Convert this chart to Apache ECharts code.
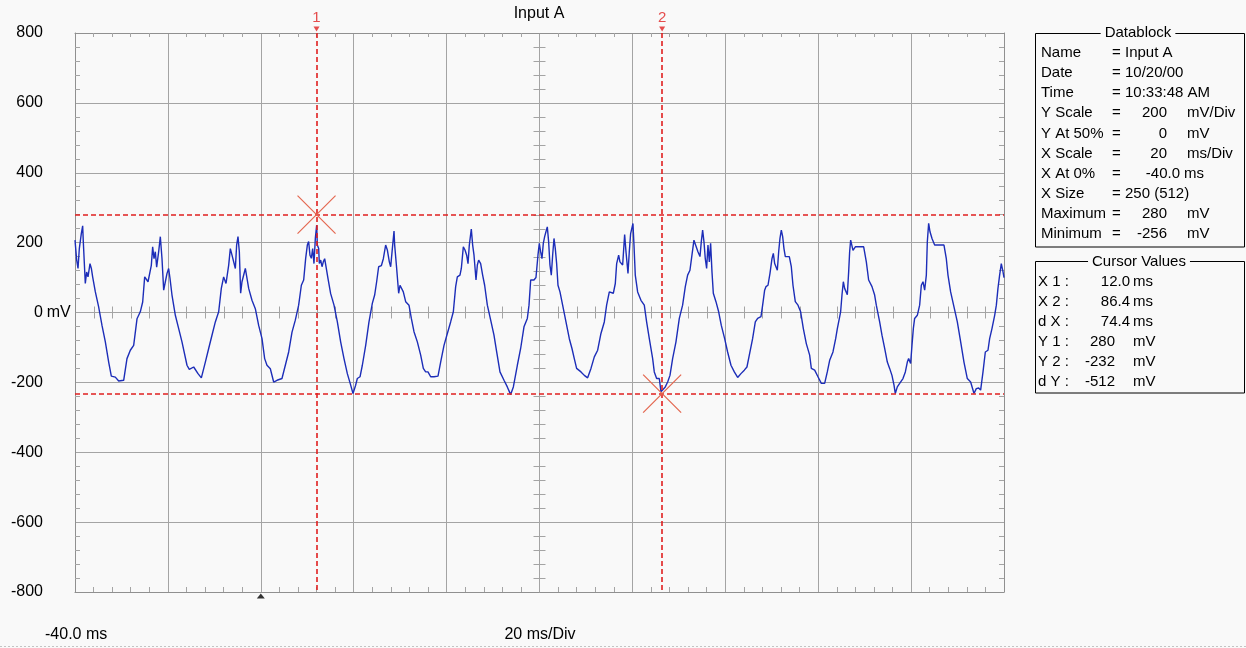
<!DOCTYPE html>
<html>
<head>
<meta charset="utf-8">
<title>Input A</title>
<script src="https://cdn.jsdelivr.net/npm/echarts@6/dist/echarts.min.js"></script>
<style>
    html, body { margin: 0; padding: 0; background: #f9f9f9; }
    #scope { width: 1246px; height: 648px; }
</style>
</head>
<body>
<div id="scope"></div>
<script>
// trace (ms, mV)
var timeMs = [
    -40.0, -39.64, -39.35, -39.07, -38.64, -38.35, -38.21, -37.92, -37.78, -37.49,
    -37.20, -36.77, -36.48, -36.20, -35.62, -34.91, -34.19, -33.47, -32.75, -32.18,
    -31.32, -30.60, -29.52, -28.81, -28.09, -27.37, -26.65, -25.94, -25.43, -25.00,
    -24.28, -23.57, -23.28, -22.99, -22.71, -22.42, -21.99, -21.63, -21.27, -20.91,
    -20.55, -20.19, -19.84, -19.55, -19.12, -18.40, -17.68, -16.97, -15.89, -15.39,
    -14.45, -13.52, -12.80, -11.94, -11.22, -10.51, -9.79, -9.07, -8.50, -8.00,
    -7.49, -6.92, -6.56, -6.20, -5.48, -5.20, -4.91, -4.62, -4.34, -4.05,
    -3.33, -2.61, -1.90, -1.18, -0.46, 0.26, 0.83, 1.33, 2.05, 2.77,
    3.49, 4.56, 5.28, 6.00, 6.72, 7.43, 8.15, 8.73, 9.23,
    9.66, 10.02, 10.30, 10.59, 10.88, 11.17, 11.45, 11.74, 12.03, 12.17,
    12.46, 12.60, 12.89, 13.18, 13.46, 13.75, 14.04, 14.47, 15.04, 15.76,
    16.48, 17.19, 17.91, 18.63, 19.35, 19.85, 20.42, 20.78, 21.36, 21.86,
    22.58, 23.29, 24.01, 24.51, 24.94, 25.37, 25.95, 26.38, 26.88, 27.24,
    27.67, 27.96, 28.32, 28.68, 28.82, 29.25, 29.68, 29.97, 30.40, 30.68,
    31.19, 31.90, 32.41, 32.98, 33.70, 34.42, 34.99, 35.49, 35.99, 36.57,
    37.29, 38.15, 38.72, 39.44, 40.16, 40.87, 41.45, 41.95, 42.31, 42.88,
    43.17, 43.60, 43.96, 44.32, 44.61, 44.89, 45.32, 45.61, 45.90, 46.33,
    46.62, 46.90, 47.33, 47.76, 48.19, 48.77, 49.49, 50.20, 50.78, 51.49,
    52.36, 53.07, 53.79, 54.37, 55.23, 55.94, 56.66, 57.38, 57.74, 58.10, 58.81,
    59.24, 59.67, 59.96, 60.24, 60.53, 60.82, 61.11, 61.39, 61.68, 61.97,
    62.25, 62.54, 62.83, 63.12, 63.40, 63.69, 63.98, 64.41, 64.98, 65.70,
    66.42, 66.99, 67.49, 67.99, 68.93, 69.65, 70.36, 71.08, 71.80, 72.52,
    73.23, 73.95, 74.45, 75.03, 75.89, 76.32, 76.61, 77.04, 77.32, 77.61,
    77.90, 78.33, 78.62, 79.05, 79.33, 79.62, 79.91, 80.12, 80.34, 80.62,
    81.13, 81.84, 82.56, 83.06, 83.64, 84.36, 84.71, 85.22, 85.79, 86.15,
    86.51, 87.08, 87.59, 88.09, 88.66, 89.38, 90.10, 90.81, 91.39, 91.89,
    92.39, 92.82, 93.25, 93.68, 94.11, 94.55, 94.83, 95.12, 95.41, 95.69,
    95.98, 96.27, 96.56, 96.84, 97.13, 97.42, 97.99, 98.57, 99.14, 99.86,
    100.50, 101.22, 101.94, 102.66, 103.37, 104.09, 104.66, 105.17, 105.88, 106.46,
    106.96, 107.68, 108.04, 108.47, 108.75,
    109.19, 109.62, 110.05, 110.34, 110.63, 110.91, 111.20, 111.49, 111.77, 112.06,
    112.35, 112.63, 112.92, 113.35, 113.78, 114.21, 114.57, 115.07, 115.65, 116.22,
    116.80, 117.44, 118.16, 118.52, 119.24, 119.95, 120.67, 121.39, 121.96, 122.47,
    123.18, 123.76, 124.12, 124.48, 124.83, 125.12, 125.41, 125.69, 125.98, 126.27,
    126.56, 126.77, 126.99, 127.49, 127.99, 129.79, 130.36, 130.86, 131.58, 132.15,
    132.51, 133.23, 133.73, 134.31, 134.88, 135.38, 135.88, 136.32, 136.60, 137.03,
    137.54, 138.25, 138.76, 139.19, 139.47, 139.90, 140.19, 140.48, 140.76, 141.34,
    141.84, 142.20, 142.56, 142.92, 143.28, 143.49, 143.78, 144.07, 144.50, 145.07,
    147.08, 147.58, 147.94, 148.51, 149.23, 149.95, 150.67, 151.38, 152.10, 152.82,
    153.54, 154.04, 154.54, 154.97, 155.48, 155.98, 156.55, 156.91, 157.41, 157.99,
    158.35, 158.70, 159.06, 159.42, 159.78, 160.0
];
var voltMv = [
    207, 150, 126, 183, 226, 248, 202, 198, 83, 116,
    102, 140, 126, 102, 59, 16, -37, -84, -142, -182,
    -185, -196, -194, -132, -108, -94, -18, 2, 30, 102,
    88, 135, 188, 154, 174, 130, 174, 217, 154, 64,
    88, 112, 126, 98, 50, -8, -46, -84, -151, -163,
    -156, -175, -187, -142, -103, -65, -27, 2, 69, 102,
    83, 135, 183, 164, 126, 193, 217, 174, 55, 88,
    126, 69, 35, 11, -37, -75, -132, -151, -161, -199,
    -194, -189, -151, -113, -56, -22, 21, 78, 93,
    155, 193, 203, 164, 155, 183, 140, 212, 250, 193,
    183, 140, 150, 131, 145, 154, 131, 97, 54, 21,
    -27, -84, -132, -175, -208, -232, -208, -189, -184, -151,
    -94, -27, 26, 50, 88, 131, 134, 154, 193, 179,
    145, 131, 183, 233, 193, 126, 55, 78, 78, 59,
    31, 21, -17, -55, -84, -122, -160, -170, -170, -184,
    -184, -182, -142, -94, -60, -27, 2, 74, 102, 107,
    126, 188, 179, 164, 140, 193, 239, 193, 164, 93,
    136, 150, 140, 107, 78, 21, -22, -65, -113, -170,
    -194, -213, -235, -213, -151, -103, -41, -17, 21, 93, 93,
    100, 164, 198, 174, 154, 198, 217, 231, 245, 202,
    136, 107, 164, 212, 183, 140, 78, 59, 21, -27,
    -75, -103, -132, -160, -170, -180, -187, -160, -127, -108,
    -60, -27, 21, 59, 55, 83, 140, 164, 145, 150,
    136, 223, 174, 112, 174, 226, 231, 255, 193, 107,
    59, 35, 21, -27, -75, -132, -170, -189, -189, -227,
    -227, -213, -199, -180, -132, -84, -17, 21, 74, 107,
    121, 164, 207, 202, 174, 160, 202, 236, 202, 154,
    126, 193, 145, 198, 117, 55, 31, 2, -37, -75,
    -113, -151, -170, -186, -175, -165, -156, -122, -75, -27,
    -17, -12, 21, 64, 74,
    78, 112, 154, 169, 140, 145, 121, 174, 212, 236,
    217, 183, 160, 155, 160, 131, 78, 31, 21, 2,
    -46, -89, -122, -160, -165, -184, -203, -203, -170, -137,
    -113, -75, -46, -50, 2, 50, 88, 69, 74, 51,
    117, 174, 207, 178, 188, 188, 145, 93, 74, 50,
    21, -27, -65, -103, -142, -160, -180, -208, -232, -213,
    -203, -189, -170, -142, -132, -146, -94, -46, -17, -8,
    21, 78, 88, 64, 107, 202, 255, 231, 212, 193,
    193, 154, 107, 59, 16, -27, -84, -142, -189, -199,
    -232, -218, -216, -222, -170, -113, -108, -75, -46, -8,
    21, 69, 107, 140, 117, 100
];

var xMin = -40, xMax = 160, xDiv = 20;     // ms
var yMin = -800, yMax = 800, yDiv = 200;   // mV
var cursorX = [12.0, 86.4];
var cursorY = [280, -232];
var triggerMs = 0;

var infoRows = [
    ['Name', 'Input A', ''],
    ['Date', '10/20/00', ''],
    ['Time', '10:33:48 AM', ''],
    ['Y Scale', '200', 'mV/Div'],
    ['Y At 50%', '0', 'mV'],
    ['X Scale', '20', 'ms/Div'],
    ['X At 0%', '-40.0', 'ms'],
    ['X Size', '250 (512)', ''],
    ['Maximum', '280', 'mV'],
    ['Minimum', '-256', 'mV']
];

var FONT = "'Liberation Sans', Arial, sans-serif";
var GRID = '#a4a4a4', EDGE = '#909090', RED = '#e02020';

var trace = [];
for (var i = 0; i < Math.min(timeMs.length, voltMv.length); i++) {
    trace.push([timeMs[i], voltMv[i]]);
}

// small ticks along the two centre lines
var hTicks = [], vTicks = [];
for (var t = xMin; t <= xMax; t += xDiv / 5) {
    if (t % xDiv !== 0) hTicks.push([t, 0]);
}
for (var v = yMin; v <= yMax; v += yDiv / 5) {
    if (v % yDiv !== 0) vTicks.push([(xMin + xMax) / 2, v]);
}

function txt(x, y, s, align, size, color) {
    return {
        type: 'text', x: x, y: y, silent: true,
        style: {
            text: s, textAlign: align || 'left', textVerticalAlign: 'middle',
            fontSize: size || 15, fontFamily: FONT, fill: color || '#000'
        }
    };
}

var graphics = [
    txt(539, 14, 'Input A', 'center', 16),
    txt(45, 635, xMin.toFixed(1) + ' ms', 'left', 16),
    txt(540, 635, xDiv + ' ms/Div', 'center', 16),
    { type: 'line', silent: true, shape: { x1: 0, y1: 646.5, x2: 1246, y2: 646.5 },
      style: { stroke: '#c4c4c4', lineWidth: 1, lineDash: [2, 2] } },
    // Datablock box
    { type: 'rect', silent: true, shape: { x: 1035.5, y: 33.5, width: 209, height: 213.5 },
      style: { fill: null, stroke: '#000', lineWidth: 1 } },
    { type: 'text', x: 1138, y: 33, silent: true,
      style: { text: 'Datablock', textAlign: 'center', textVerticalAlign: 'middle', fontSize: 15,
               fontFamily: FONT, fill: '#000', backgroundColor: '#f9f9f9', padding: [0, 4] } },
    // Cursor values box
    { type: 'rect', silent: true, shape: { x: 1035.5, y: 261.5, width: 209, height: 131.5 },
      style: { fill: null, stroke: '#000', lineWidth: 1 } },
    { type: 'text', x: 1139, y: 262, silent: true,
      style: { text: 'Cursor Values', textAlign: 'center', textVerticalAlign: 'middle', fontSize: 15,
               fontFamily: FONT, fill: '#000', backgroundColor: '#f9f9f9', padding: [0, 4] } }
];

infoRows.forEach(function (r, k) {
    var y = 53 + k * 20.1;
    graphics.push(txt(1041, y, r[0]));
    graphics.push(txt(1112, y, '='));
    if (r[2] === '') {
        graphics.push(txt(1125, y, r[1]));
    } else if (r[2] === 'ms') {
        graphics.push(txt(1180, y, r[1], 'right'));
        graphics.push(txt(1184, y, r[2]));
    } else {
        graphics.push(txt(1167, y, r[1], 'right'));
        graphics.push(txt(1187, y, r[2]));
    }
});

var cursorRows = [
    ['X 1 :', cursorX[0].toFixed(1), 'ms'],
    ['X 2 :', cursorX[1].toFixed(1), 'ms'],
    ['d X :', (cursorX[1] - cursorX[0]).toFixed(1), 'ms'],
    ['Y 1 :', String(cursorY[0]), 'mV'],
    ['Y 2 :', String(cursorY[1]), 'mV'],
    ['d Y :', String(cursorY[1] - cursorY[0]), 'mV']
];
cursorRows.forEach(function (r, k) {
    var y = 282 + k * 20;
    graphics.push(txt(1038, y, r[0]));
    graphics.push(txt(r[2] === 'ms' ? 1130 : 1115, y, r[1], 'right'));
    graphics.push(txt(1133, y, r[2]));
});

// cursor lines: one vertical + one horizontal per cursor, placed through the axes
function renderCursor(params, api) {
    var p = api.coord([api.value(0), api.value(1)]);
    var lo = api.coord([xMin, yMin]), hi = api.coord([xMax, yMax]);
    var x = Math.round(p[0]), y = Math.round(p[1]);
    var dash = { stroke: RED, lineWidth: 1.6, lineDash: [5, 3], fill: null };
    var s = 19;
    return {
        type: 'group', children: [
            { type: 'line', shape: { x1: x, y1: hi[1], x2: x, y2: lo[1] }, style: dash },
            { type: 'line', shape: { x1: lo[0], y1: y, x2: hi[0], y2: y }, style: dash },
            { type: 'line', shape: { x1: p[0] - s, y1: p[1] - s, x2: p[0] + s, y2: p[1] + s },
              style: { stroke: '#e4664f', lineWidth: 1.2 } },
            { type: 'line', shape: { x1: p[0] - s, y1: p[1] + s, x2: p[0] + s, y2: p[1] - s },
              style: { stroke: '#e4664f', lineWidth: 1.2 } }
        ]
    };
}

var chart = echarts.init(document.getElementById('scope'));
chart.setOption({
    backgroundColor: '#f9f9f9',
    animation: false,
    grid: { left: 75, top: 33, width: 929, height: 559, outerBoundsMode: 'none', containLabel: false },
    xAxis: [{
        type: 'value', min: xMin, max: xMax, interval: xDiv, position: 'bottom',
        axisLine: { show: true, onZero: false, lineStyle: { color: EDGE, width: 1 } },
        axisTick: { show: false, inside: true },
        minorTick: { show: true, splitNumber: 5, length: 5, lineStyle: { color: GRID } },
        splitLine: { show: true, lineStyle: { color: GRID, width: 1 } },
        axisLabel: { show: false }
    }, {
        type: 'value', min: xMin, max: xMax, interval: xDiv, position: 'top',
        axisLine: { show: true, onZero: false, lineStyle: { color: EDGE, width: 1 } },
        axisTick: { show: false, inside: true },
        minorTick: { show: true, splitNumber: 5, length: 4, lineStyle: { color: GRID } },
        splitLine: { show: false },
        axisLabel: { show: false }
    }],
    yAxis: [{
        type: 'value', min: yMin, max: yMax, interval: yDiv, position: 'left',
        axisLine: { show: true, onZero: false, lineStyle: { color: EDGE, width: 1 } },
        axisTick: { show: false, inside: true },
        minorTick: { show: true, splitNumber: 5, length: 5, lineStyle: { color: GRID } },
        splitLine: { show: true, lineStyle: { color: GRID, width: 1 } },
        axisLabel: {
            show: true, margin: 5,
            formatter: function (val) {
                return '{n|' + val + '}{u|' + (val === 0 ? ' mV' : '\u00a0') + '}';
            },
            rich: {
                n: { fontSize: 16, fontFamily: FONT, color: '#000' },
                u: { width: 27, align: 'left', fontSize: 16, fontFamily: FONT, color: '#000' }
            }
        }
    }, {
        type: 'value', min: yMin, max: yMax, interval: yDiv, position: 'right',
        axisLine: { show: true, onZero: false, lineStyle: { color: EDGE, width: 1 } },
        axisTick: { show: false, inside: true },
        minorTick: { show: true, splitNumber: 5, length: 5, lineStyle: { color: GRID } },
        splitLine: { show: false },
        axisLabel: { show: false }
    }],
    graphic: graphics,
    series: [{
        type: 'custom', name: 'centre x ticks', silent: true, z: 1,
        data: hTicks,
        renderItem: function (params, api) {
            var p = api.coord([api.value(0), api.value(1)]);
            var x = Math.round(p[0]) + 0.5;
            return { type: 'line', shape: { x1: x, y1: p[1] - 6, x2: x, y2: p[1] + 6 },
                     style: { stroke: GRID, lineWidth: 1 } };
        }
    }, {
        type: 'custom', name: 'centre y ticks', silent: true, z: 1,
        data: vTicks,
        renderItem: function (params, api) {
            var p = api.coord([api.value(0), api.value(1)]);
            var y = Math.round(p[1]) + 0.5;
            return { type: 'line', shape: { x1: p[0] - 6, y1: y, x2: p[0] + 6, y2: y },
                     style: { stroke: GRID, lineWidth: 1 } };
        }
    }, {
        type: 'line', name: 'Input A', data: trace,
        showSymbol: false, symbol: 'none', silent: true, z: 3,
        lineStyle: { color: '#1c2db8', width: 1.4 }
    }, {
        type: 'custom', name: 'cursors', silent: true, z: 4,
        data: cursorX.map(function (cx, k) { return [cx, cursorY[k]]; }),
        renderItem: renderCursor
    }, {
        type: 'scatter', name: 'cursor flags', silent: true, z: 5,
        data: cursorX.map(function (cx) { return [cx, yMax]; }),
        symbol: 'triangle', symbolRotate: 180, symbolSize: [6, 5], symbolOffset: [0, -4],
        itemStyle: { color: RED },
        label: {
            show: true, position: 'top', distance: 1, color: RED, fontSize: 15, fontFamily: FONT,
            formatter: function (p) { return String(p.dataIndex + 1); }
        }
    }, {
        type: 'scatter', name: 'trigger', silent: true, z: 5,
        data: [[triggerMs, yMin]],
        symbol: 'triangle', symbolSize: [8, 5], symbolOffset: [0, 4],
        itemStyle: { color: '#000' }
    }]
});
</script>
</body>
</html>
